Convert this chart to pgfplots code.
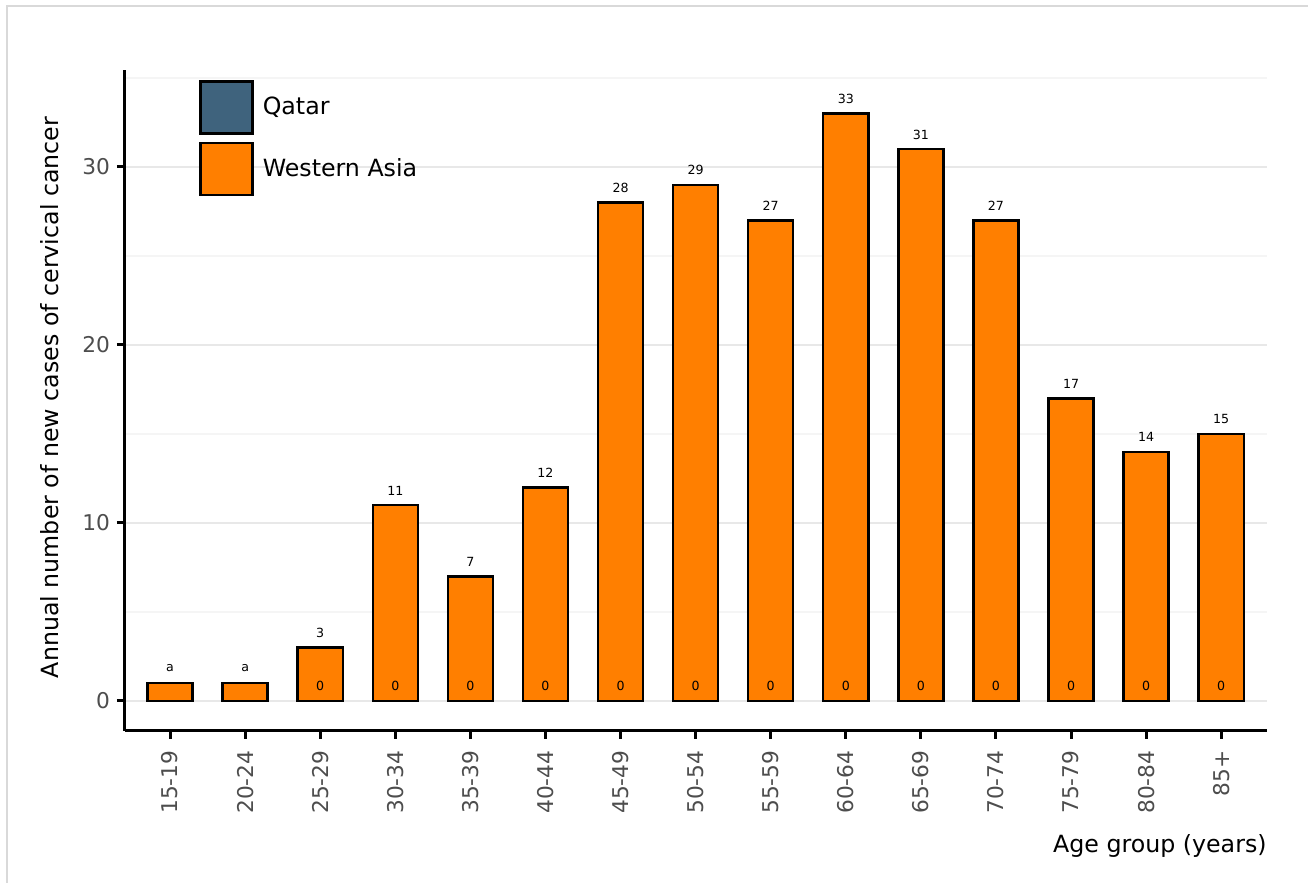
\documentclass[border=0pt]{standalone}
\usepackage{pgfplots}
\pgfplotsset{compat=1.18}
\usepackage{pgfplotstable}
\usepackage{fontspec}
\setmainfont{DejaVu Sans}
\definecolor{wasia}{RGB}{255,127,0}
\definecolor{qatar}{RGB}{63,99,125}
\definecolor{gridmaj}{RGB}{232,232,232}
\definecolor{gridmin}{RGB}{245,245,245}
\definecolor{ticklab}{RGB}{77,77,77}
\definecolor{frame}{RGB}{217,217,217}

\pgfplotstableread{
x y lab
0 1 a
1 1 a
2 3 3
3 11 11
4 7 7
5 12 12
6 28 28
7 29 29
8 27 27
9 33 33
10 31 31
11 27 27
12 17 17
13 14 14
14 15 15
}\wasiadata

\pgfplotstableread{
x y lab
2 0 0
3 0 0
4 0 0
5 0 0
6 0 0
7 0 0
8 0 0
9 0 0
10 0 0
11 0 0
12 0 0
13 0 0
14 0 0
}\qatardata

\begin{document}
\begin{tikzpicture}
\useasboundingbox (-62.5pt,-76pt) rectangle (591.5pt,365.5pt);
\draw[frame, line width=1pt] (-59pt,-80pt) -- (-59pt,362.25pt) -- (600pt,362.25pt);
\begin{axis}[
  at={(0pt,0pt)}, anchor=south west,
  scale only axis,
  width=571pt, height=330.5pt,
  xmin=-0.6, xmax=14.61,
  ymin=-1.69, ymax=35.45,
  axis x line*=bottom, axis y line*=left,
  axis line style={line width=1.5pt, black},
  xtick={0,...,14},
  xticklabels={15-19,20-24,25-29,30-34,35-39,40-44,45-49,50-54,55-59,60-64,65-69,70-74,75-79,80-84,85+},
  ytick={0,10,20,30},
  minor ytick={5,15,25,35},
  minor tick length=0pt,
  major tick length=4pt,
  tick align=outside,
  tick style={line width=1.5pt, black},
  ymajorgrids, yminorgrids,
  major grid style={gridmaj, line width=1pt},
  minor grid style={gridmin, line width=0.8pt},
  /pgf/number format/assume math mode=true,
  ticklabel style={font=\fontsize{10.85}{13}\selectfont, text=ticklab},
  xticklabel style={rotate=90, anchor=east, inner xsep=5.6pt},
  xlabel={Age group (years)},
  ylabel={Annual number of new cases of cervical cancer},
  label style={font=\fontsize{11.85}{14}\selectfont},
  xlabel style={at={(rel axis cs:1,0)}, anchor=north east, yshift=-51.5pt, inner sep=0pt},
  ylabel style={at={(axis description cs:-0.0657,0.5045)}, anchor=center, inner sep=0pt},
  ybar, bar width=0.6, bar shift=0pt,
  reverse legend,
  legend style={at={(axis description cs:0.0648,0.98487)}, anchor=north west,
    draw=none, fill=none, inner sep=0pt, row sep=3.5pt,
    font=\fontsize{11.85}{14}\selectfont,
    nodes={inner sep=0pt},
    /tikz/every odd column/.append style={column sep=4.5pt}},
  legend cell align=left,
  clip=false,
]
\addplot[fill=wasia, draw=black, line width=1.2pt, bar shift=0pt,
  nodes near coords, point meta=explicit symbolic,
  every node near coord/.append style={font=\fontsize{6.3}{7}\selectfont, text=black, anchor=center, yshift=7.3pt},
  legend image code/.code={\draw[fill=wasia, draw=black, line width=1.2pt] (0pt,-13.2pt) rectangle (26pt,12.8pt);}]
  table[x=x, y=y, meta=lab] {\wasiadata};
\addlegendentry{Western Asia}
\addplot[fill=qatar, draw=black, line width=1.2pt, bar shift=0pt,
  nodes near coords, point meta=explicit symbolic,
  every node near coord/.append style={font=\fontsize{6.3}{7}\selectfont, text=black, anchor=center, yshift=7.3pt},
  legend image code/.code={\draw[fill=qatar, draw=black, line width=1.2pt] (0pt,-13.2pt) rectangle (26pt,12.8pt);}]
  table[x=x, y=y, meta=lab] {\qatardata};
\addlegendentry{Qatar}
\end{axis}
\end{tikzpicture}
\end{document}
